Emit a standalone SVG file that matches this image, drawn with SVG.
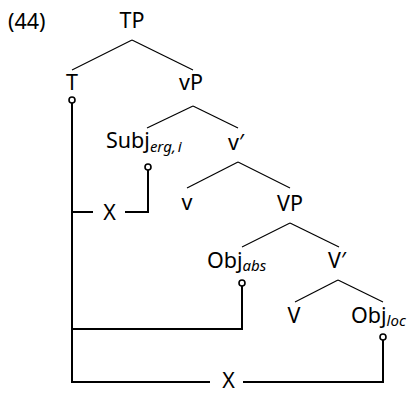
<svg xmlns="http://www.w3.org/2000/svg" width="414" height="393" viewBox="0 0 414 393">
<style>
text{font-family:"Noto Sans","Open Sans","Liberation Sans",sans-serif;font-size:21.5px;fill:#000}
.m{text-anchor:middle}
.sub{font-size:15px;font-style:italic}
.tree line{stroke:#000;stroke-width:1.2}
.mv{fill:none;stroke:#000;stroke-width:2}
.dot{fill:#fff;stroke:#000;stroke-width:1.6}
</style>
<rect width="414" height="393" fill="#fff"/>
<g id="label44"><text x="8" y="29">(44)</text></g>
<g id="n-TP"><text class="m" x="132" y="28">TP</text></g>
<g id="n-T"><text class="m" x="72" y="90">T</text></g>
<g id="n-vP"><text class="m" x="191" y="90">vP</text></g>
<g id="n-Subj"><text x="106" y="148">Subj<tspan class="sub" dy="4">erg</tspan><tspan class="sub">,</tspan><tspan class="sub" dx="2">i</tspan></text></g>
<g id="n-vbar"><text class="m" x="236" y="150">v′</text></g>
<g id="n-v"><text class="m" x="187" y="210">v</text></g>
<g id="n-VP"><text class="m" x="290" y="211">VP</text></g>
<g id="n-Objabs"><text x="207" y="268">Obj<tspan class="sub" dy="3">abs</tspan></text></g>
<g id="n-Vbar"><text class="m" x="337" y="268">V′</text></g>
<g id="n-V"><text class="m" x="294" y="323">V</text></g>
<g id="n-Objloc"><text x="351" y="323">Obj<tspan class="sub" dy="3">loc</tspan></text></g>
<g id="x1"><text class="m" x="109.5" y="220">X</text></g>
<g id="x2"><text class="m" x="228.5" y="388">X</text></g>
<g id="connectors">
<g class="tree">
<line x1="132" y1="40" x2="72" y2="70"/>
<line x1="132" y1="40" x2="193" y2="70"/>
<line x1="193" y1="106" x2="147" y2="128"/>
<line x1="193" y1="106" x2="238" y2="128"/>
<line x1="238" y1="162" x2="187" y2="188"/>
<line x1="238" y1="162" x2="290" y2="188"/>
<line x1="290" y1="223" x2="242" y2="247"/>
<line x1="290" y1="223" x2="339" y2="247"/>
<line x1="338" y1="280" x2="295" y2="302"/>
<line x1="338" y1="280" x2="383" y2="302"/>
</g>
<path class="mv" d="M72 103V382H210"/>
<path class="mv" d="M72 212H93M125 212H148V170"/>
<path class="mv" d="M72 329H242V286"/>
<path class="mv" d="M243 382H383V340"/>
<circle class="dot" cx="72" cy="100" r="3"/>
<circle class="dot" cx="148" cy="167" r="3"/>
<circle class="dot" cx="242" cy="283" r="3"/>
<circle class="dot" cx="383" cy="337" r="3"/>
</g>
</svg>
